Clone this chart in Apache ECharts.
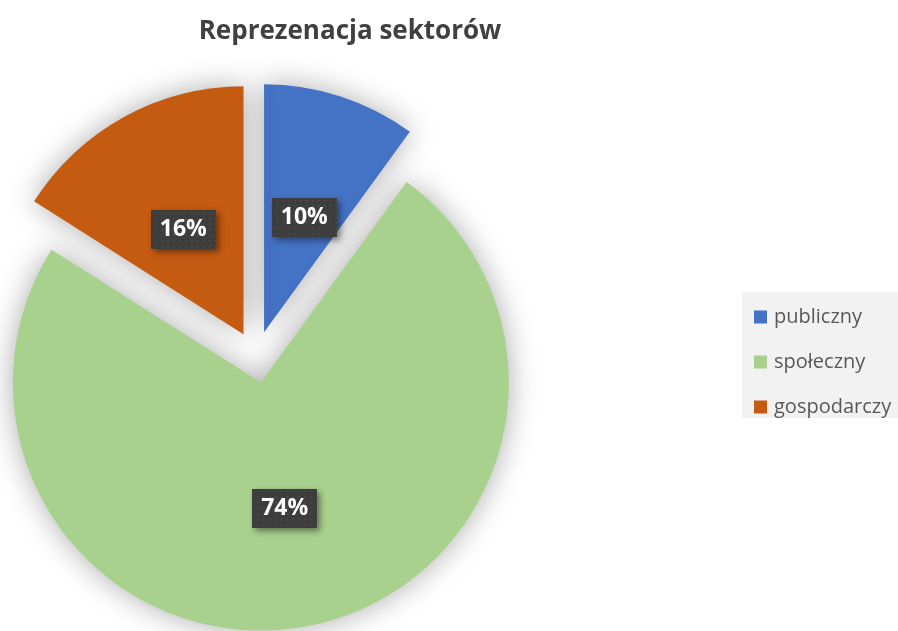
<!DOCTYPE html>
<html><head><meta charset="utf-8">
<script src="https://cdn.jsdelivr.net/npm/echarts@6/dist/echarts.min.js"></script>
<style>html,body{margin:0;padding:0;background:#fff}#c{width:898px;height:631px}</style>
</head><body><div id="c"></div>
<script>
const titleText = 'Reprezenacja sektorów';
const categories = ['publiczny', 'społeczny', 'gospodarczy'];
const values = [10, 74, 16];
const colors = ['#4472c4', '#a9d18e', '#c55a11'];
const labelNudge = [[1, 6], [0, 1], [1, 7]];

// dotted texture for label boxes
const tex = document.createElement('canvas');
tex.width = 66; tex.height = 42;
const g = tex.getContext('2d');
g.fillStyle = '#3d3d3d'; g.fillRect(0, 0, 66, 42);
g.fillStyle = '#525252';
for (let y = 2; y < 42; y += 6) for (let x = 2; x < 66; x += 6) g.fillRect(x + ((y / 6) % 2 ? 3 : 0), y, 1.5, 1.5);

const chart = echarts.init(document.getElementById('c'));
const FONT = '"Open Sans", sans-serif';
chart.setOption({
  animation: false,
  backgroundColor: '#ffffff',
  title: {
    text: titleText, left: 345, top: 14, textAlign: 'center',
    textStyle: { fontFamily: FONT, fontSize: 26, fontWeight: 'bold', color: '#404040' }
  },
  graphic: [{ type: 'rect', left: 742, top: 292, shape: { width: 160, height: 126 }, style: { fill: '#f2f2f2' }, z: -1 }],
  legend: {
    orient: 'vertical', left: 749, top: 302, itemWidth: 13, itemHeight: 13, itemGap: 25,
    icon: 'rect', data: categories,
    textStyle: { fontFamily: FONT, fontSize: 20, color: '#595959', padding: [0, 0, 0, 2] }
  },
  series: [{
    type: 'pie', center: [256, 357], radius: 248, startAngle: 90, clockwise: true,
    selectedMode: 'multiple', selectedOffset: 26,
    itemStyle: { shadowBlur: 30, shadowColor: 'rgba(0,0,0,0.33)' },
    select: { itemStyle: { shadowBlur: 30, shadowColor: 'rgba(0,0,0,0.33)' } },
    emphasis: { disabled: true },
    label: {
      show: true, position: 'inside', formatter: '{c}%',
      fontFamily: FONT, fontSize: 23, fontWeight: 'bold', color: '#ffffff',
      backgroundColor: { image: tex }, padding: [9, 9, 7, 9],
      shadowBlur: 6, shadowOffsetX: 3, shadowOffsetY: 3, shadowColor: 'rgba(0,0,0,0.45)'
    },
    labelLayout: (p) => ({ dx: labelNudge[p.dataIndex][0], dy: labelNudge[p.dataIndex][1] }),
    labelLine: { show: false },
    data: categories.map((n, i) => ({
      name: n, value: values[i], selected: true,
      itemStyle: { color: colors[i] }
    }))
  }]
});
</script></body></html>
